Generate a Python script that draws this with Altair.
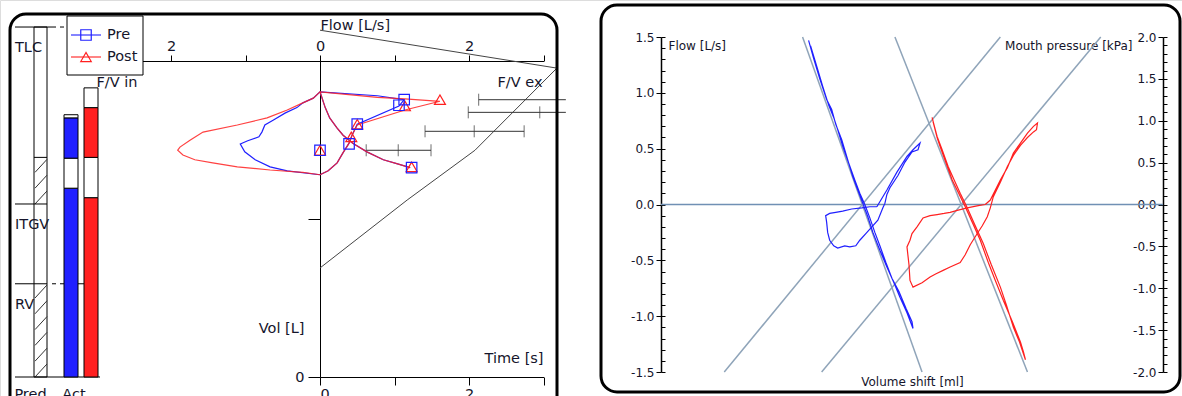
import altair as alt
import pandas as pd

FONT = "DejaVu Sans"
INK = "#15152b"
BLUE = "#2020ff"
RED = "#ff2020"
GUIDE = "#8fa4b9"
ZERO = "#7090b4"
SERIES = ["Pre", "Post"]
SERIES_COLORS = [BLUE, RED]

# ================= Right panel: flow [L/s] vs volume shift [ml] =================
pre_a_vs = [-51.5, -49, -46, -42.5, -40, -38, -35, -32, -29.5, -27, -24.5, -22, -19.5, -16, -12.5, -9, -6, -2.5, 0.5,
            0, -3, -6.5, -10, -13, -16, -18.5, -21, -23.5, -26, -28.5, -31.5, -34.5, -37, -39, -41.5, -44.5, -47.5, -50.5]
pre_a_flow = [1.47, 1.31, 1.13, 0.94, 0.85, 0.72, 0.58, 0.40, 0.25, 0.13, 0.01, -0.11, -0.25, -0.41, -0.56, -0.70, -0.83, -0.97, -1.11,
              -1.05, -0.93, -0.78, -0.66, -0.52, -0.37, -0.25, -0.12, 0.00, 0.10, 0.22, 0.37, 0.52, 0.67, 0.78, 0.89, 1.06, 1.24, 1.42]
pre_b_vs = [-17.5, -12.5, -7.5, -2.5, 0.5, 4, 3, 0, -3.5, -7, -11, -12.5, -13.5, -14.5, -17, -20, -23, -26, -28, -31,
            -33.5, -37, -39, -41, -42, -42.5, -43, -41, -38, -34.5, -30, -25, -21, -17.5]
pre_b_flow = [-0.02, 0.13, 0.29, 0.43, 0.49, 0.55, 0.49, 0.47, 0.38, 0.26, 0.15, 0.09, 0.01, -0.03, -0.14, -0.20, -0.26, -0.32, -0.37, -0.38,
              -0.37, -0.39, -0.37, -0.32, -0.25, -0.16, -0.10, -0.08, -0.07, -0.06, -0.04, -0.03, -0.02, -0.02]
post_a_vs = [10, 11, 12.5, 15, 18, 21, 24, 26.5, 28, 31.5, 35.5, 39.5, 44, 47, 50.5, 53.5, 56.5,
             55.5, 54, 50, 45.5, 41.5, 38, 34, 30.5, 26.5, 23, 20, 17, 14, 12.5, 11.5, 10.5]
post_a_flow = [0.78, 0.71, 0.61, 0.49, 0.34, 0.22, 0.10, 0.01, -0.05, -0.19, -0.35, -0.54, -0.74, -0.90, -1.10, -1.23, -1.39,
               -1.32, -1.23, -1.05, -0.86, -0.68, -0.52, -0.32, -0.18, -0.02, 0.11, 0.22, 0.37, 0.52, 0.60, 0.67, 0.74]
post_b_vs = [36.5, 39, 41.5, 44, 47.5, 50.5, 54, 57.5, 60.5, 62.5, 62, 60.5, 57.5, 54, 50.5, 47.5, 44, 40.5, 39, 37.5,
             35, 32.5, 29, 26.5, 24, 19, 15.5, 12, 9, 5, 0.5, -1, -1.5, -2.5, -1, 0, 2.5, 5.5, 9, 12.5, 16, 19, 23, 27.5, 33, 36.5]
post_b_flow = [0.00, 0.04, 0.13, 0.22, 0.33, 0.46, 0.55, 0.64, 0.70, 0.73, 0.67, 0.65, 0.60, 0.53, 0.44, 0.34, 0.20, 0.07, -0.03, -0.11,
               -0.19, -0.26, -0.36, -0.45, -0.52, -0.56, -0.59, -0.62, -0.65, -0.70, -0.74, -0.68, -0.54, -0.38, -0.32, -0.26, -0.20,
               -0.12, -0.10, -0.09, -0.08, -0.07, -0.05, -0.03, -0.01, 0.00]
# straight reference lines: volume shift where each line meets flow +1.5 and -1.5
ref_vs_at_top = [-54.5, -8.5, 44, 94]
ref_vs_at_bottom = [5, 57.5, -93.5, -45]
ref_flow_ends = [1.5, -1.5]

# ================= Left panel: flow-volume loops =================
pre_fv_flow = [0, -0.44, -0.67, -0.87, -1.01, -1.07, -0.97, -0.82, -0.78, -0.74, -0.63, -0.47, -0.31, -0.23, -0.09, 0,
               0.77, 1.13, 1.06, 0.50, 0.43, 0.39, 0.31, 0.23, 0.11, 0]
pre_fv_vol = [2.56, 2.61, 2.66, 2.75, 2.85, 2.95, 2.99, 3.04, 3.10, 3.19, 3.25, 3.34, 3.41, 3.47, 3.53, 3.61,
              3.56, 3.51, 3.43, 3.20, 3.06, 2.96, 2.84, 2.71, 2.61, 2.56]
post_fv_flow = [0, -0.23, -0.67, -1.11, -1.44, -1.68, -1.84, -1.91, -1.88, -1.74, -1.57, -1.11, -0.71, -0.44, -0.23, -0.09, 0,
                0.77, 1.14, 1.61, 1.14, 0.50, 0.43, 0.39, 0.31, 0.23, 0.11, 0]
post_fv_vol = [2.56, 2.59, 2.62, 2.66, 2.71, 2.75, 2.81, 2.87, 2.91, 3.00, 3.10, 3.19, 3.28, 3.38, 3.47, 3.53, 3.61,
               3.54, 3.52, 3.49, 3.38, 3.19, 3.06, 2.96, 2.84, 2.71, 2.61, 2.56]
curve_flow = [0, 0.07, 0.13, 0.23, 0.31, 0.44, 0.63, 0.85, 1.03, 1.21]
curve_vol = [3.61, 3.41, 3.28, 3.15, 3.06, 2.96, 2.85, 2.75, 2.70, 2.65]
pre_mark_flow = [1.13, 1.06, 0.50, 0.39, 0, 1.23]
pre_mark_vol = [3.51, 3.44, 3.20, 2.95, 2.87, 2.65]
post_mark_flow = [1.61, 1.14, 0.50, 0.42, 0, 1.23]
post_mark_vol = [3.51, 3.43, 3.20, 3.04, 2.87, 2.66]
# predicted expiratory flow ranges (F/V ex)
pred_vol = [3.51, 3.35, 3.11, 2.87]
pred_lo = [2.13, 1.99, 1.41, 0.62]
pred_hi = [3.3, 3.3, 2.74, 1.49]
pred_tick_flow = [2.13, 1.99, 2.95, 1.41, 2.07, 2.74, 0.62, 1.05, 1.49]
pred_tick_vol = [3.51, 3.35, 3.35, 3.11, 3.11, 3.11, 2.87, 2.87, 2.87]
# volume-time lines
spiro_a_time = [0, 3.18]
spiro_a_vol = [4.39, 3.91]
spiro_b_time = [0, 1.17, 2.08, 3.18]
spiro_b_vol = [1.38, 2.24, 2.87, 3.91]

# lung volume bars [L]
pred_top = 4.43
hatch_ranges = [(2.19, 2.78), (0.0, 1.18)]
hatch_starts = [2.19, 2.39, 2.59, 0.0, 0.2, 0.4, 0.6, 0.8, 1.0]
vol_labels = ["TLC", "ITGV", "RV"]
vol_label_y = [4.43, 2.19, 1.18]
act_col = ["Pre", "Pre", "Pre", "Pre", "Post", "Post", "Post", "Post"]
act_lo = [0, 2.39, 2.77, 3.28, 0, 2.27, 2.78, 3.41]
act_hi = [2.39, 2.77, 3.28, 3.32, 2.27, 2.78, 3.41, 3.66]
act_fill = [BLUE, "white", BLUE, "white", RED, "white", RED, "white"]

one = pd.DataFrame({"k": [0]})


def path_df(segments):
    rows = []
    for s, (xs, ys) in enumerate(segments):
        for i, (a, b) in enumerate(zip(xs, ys)):
            rows.append({"seg": s, "i": i, "x": a, "y": b})
    return pd.DataFrame(rows)


AX = dict(labelFont=FONT, titleFont=FONT, labelColor=INK, titleColor=INK, titleFontWeight="normal",
          domainColor="black", tickColor="black", grid=False, labelOverlap=False)
MINUS = "(datum.value < 0 ? '-' : '') + format(abs(datum.value), '.1f')"

# ---------- right panel scales / axes ----------
R_X = alt.Scale(domain=[-125, 125], range=[661, 1163], nice=False, zero=False)
R_F = alt.Scale(domain=[-1.5, 1.5], range=[372, 37], nice=False, zero=False)
R_P = alt.Scale(domain=[-2, 2], range=[372, 37], nice=False, zero=False)
r_x_axis = alt.Axis(orient="bottom", offset=-24, domain=False, ticks=False, labels=False,
                    title="Volume shift [ml]", titleX=912, titleY=9, titleBaseline="middle",
                    titleAlign="center", titleFontSize=12, **AX)
r_f_axis = alt.Axis(orient="left", offset=-661, values=[-1.5, -1, -0.5, 0, 0.5, 1, 1.5], labelExpr=MINUS,
                    tickSize=5, labelPadding=2, labelFontSize=12, domainWidth=1.5,
                    title="Flow [L/s]", titleAngle=0, titleAlign="left", titleBaseline="middle",
                    titleX=7, titleY=45, titleFontSize=12, **AX)
r_p_axis = alt.Axis(orient="left", offset=-1163, values=[-2, -1.5, -1, -0.5, 0, 0.5, 1, 1.5, 2], labelExpr=MINUS,
                    tickSize=5, labelPadding=2, labelFontSize=12, domainWidth=1.5,
                    title="Mouth pressure [kPa]", titleAngle=0, titleAlign="right", titleBaseline="middle",
                    titleX=-31, titleY=45, titleFontSize=12, **AX)

rx = alt.X("x:Q", scale=R_X, axis=r_x_axis)
ry = alt.Y("y:Q", scale=R_F, axis=r_f_axis)

ref_df = path_df([([t, b], ref_flow_ends) for t, b in zip(ref_vs_at_top, ref_vs_at_bottom)])
right_lines = alt.layer(
    alt.Chart(ref_df).mark_line(color=GUIDE, strokeWidth=1.5).encode(x=rx, y=ry, detail="seg:N", order="i:Q"),
    alt.Chart(path_df([(pre_a_vs, pre_a_flow), (pre_b_vs, pre_b_flow)])).mark_line(color=BLUE, strokeWidth=1.2)
    .encode(x=rx, y=ry, detail="seg:N", order="i:Q"),
    alt.Chart(path_df([(post_a_vs, post_a_flow), (post_b_vs, post_b_flow)])).mark_line(color=RED, strokeWidth=1.2)
    .encode(x=rx, y=ry, detail="seg:N", order="i:Q"),
)

zero_rule = alt.Chart(pd.DataFrame({"p": [0]})).mark_rule(color=ZERO, strokeWidth=1.5).encode(
    y=alt.Y("p:Q", scale=R_P, axis=r_p_axis), x=alt.value(661), x2=alt.value(1163))

minor_f = alt.Chart(one).mark_point(opacity=0).encode(y=alt.Y("k:Q", scale=R_F, axis=alt.Axis(
    orient="left", offset=-665, values=[round(-1.5 + 0.1 * k, 1) for k in range(31)], tickSize=4,
    labels=False, domain=False, title=None, tickColor="black", grid=False)))
minor_p = alt.Chart(one).mark_point(opacity=0).encode(y=alt.Y("k:Q", scale=R_P, axis=alt.Axis(
    orient="left", offset=-1167, values=[round(-2 + 0.1 * k, 1) for k in range(41)], tickSize=4,
    labels=False, domain=False, title=None, tickColor="black", grid=False)))

# ---------- left panel: flow-volume ----------
L_F = alt.Scale(domain=[-3, 3], range=[96.5, 543.5], nice=False, zero=False)
L_V = alt.Scale(domain=[0, 4], range=[377, 61], nice=False, zero=False)
L_T = alt.Scale(domain=[0, 3], range=[320, 543.5], nice=False, zero=False)
fv_x_axis = alt.Axis(orient="top", offset=-61, values=[-3, -2, -1, 0, 1, 2, 3],
                     labelExpr="datum.value % 2 == 0 ? format(abs(datum.value), 'd') : ''",
                     tickSize=6, labelPadding=2, labelFontSize=14.5, title="Flow [L/s]", titleX=320, titleY=-36,
                     titleAlign="left", titleBaseline="middle", titleAngle=0, titleFontSize=14.5, **AX)
fv_y_axis = alt.Axis(orient="left", offset=-320, values=[0, 2], labelExpr="datum.value == 0 ? '0' : ''",
                     tickSize=12, labelPadding=4, labelFontSize=14.5, title="Vol [L]", titleAngle=0,
                     titleAlign="right", titleBaseline="middle", titleX=-16, titleY=328, titleFontSize=14.5, **AX)
t_axis = alt.Axis(orient="bottom", offset=-19, values=[0, 1, 2, 3],
                  labelExpr="datum.value % 2 == 0 ? format(datum.value, 'd') : ''", tickSize=8, labelPadding=2,
                  labelFontSize=14.5, title="Time [s]", titleX=543, titleY=-19, titleAlign="right",
                  titleBaseline="middle", titleFontSize=14.5, **AX)

fx = alt.X("x:Q", scale=L_F, axis=fv_x_axis)
fy = alt.Y("y:Q", scale=L_V, axis=fv_y_axis)

pred_df = pd.DataFrame({"y": pred_vol, "x": pred_lo, "x2": pred_hi})
tick_df = pd.DataFrame({"x": pred_tick_flow, "y": pred_tick_vol})
fv = alt.layer(
    alt.Chart(pred_df).mark_rule(color="#333333", strokeWidth=1).encode(x=fx, x2="x2:Q", y=fy),
    alt.Chart(tick_df).mark_point(shape="M0,-1V1", size=144, color="#333333", strokeWidth=1).encode(x=fx, y=fy),
    alt.Chart(path_df([(pre_fv_flow, pre_fv_vol), (curve_flow, curve_vol)])).mark_line(color=BLUE, strokeWidth=1.2)
    .encode(x=fx, y=fy, detail="seg:N", order="i:Q"),
    alt.Chart(path_df([(post_fv_flow, post_fv_vol), (curve_flow, curve_vol)])).mark_line(color=RED, strokeWidth=1.2, opacity=0.85)
    .encode(x=fx, y=fy, detail="seg:N", order="i:Q"),
    alt.Chart(pd.DataFrame({"x": post_mark_flow, "y": post_mark_vol})).mark_point(
        shape="triangle-up", size=120, color=RED, filled=False, strokeWidth=1.2, opacity=1).encode(x=fx, y=fy),
    alt.Chart(pd.DataFrame({"x": pre_mark_flow, "y": pre_mark_vol})).mark_point(
        shape="square", size=110, color=BLUE, filled=False, strokeWidth=1.2, opacity=1).encode(x=fx, y=fy),
)

spiro = alt.Chart(path_df([(spiro_a_time, spiro_a_vol), (spiro_b_time, spiro_b_vol)])).mark_line(
    color="#444444", strokeWidth=1).encode(
    x=alt.X("x:Q", scale=L_T, axis=t_axis), y=alt.Y("y:Q", scale=L_V, axis=None), detail="seg:N", order="i:Q")

# ---------- left panel: volume bars ----------
B_V = alt.Scale(domain=[0, 4], range=[377, 61], nice=False, zero=False)
pred_axis = alt.Axis(orient="bottom", offset=-19, domain=False, ticks=False, labelPadding=10, labelFontSize=14.5,
                     labelAngle=0, labelAlign="center", labelBaseline="top", labelOffset=-10, title=None, **AX)
pcol = alt.X("col:N", scale=alt.Scale(domain=["Pred"], range=[34, 47], paddingInner=0, paddingOuter=0), axis=pred_axis)
by = alt.Y("lo:Q", scale=B_V, axis=None)
hatch_df = pd.DataFrame({"lo": hatch_starts, "hi": [h + 0.165 for h in hatch_starts]})


def hrule(v, x0, x1, dash=False):
    kw = dict(color="black", strokeWidth=1)
    if dash:
        kw["strokeDash"] = [4, 4]
    return alt.Chart(pd.DataFrame({"lo": [v]})).mark_rule(**kw).encode(y=by, x=alt.value(x0), x2=alt.value(x1))


pred_layer = alt.layer(
    alt.Chart(pd.DataFrame({"col": ["Pred"], "lo": [0], "hi": [pred_top]})).mark_bar(
        fill="white", stroke="black", strokeWidth=1).encode(x=pcol, y=by, y2="hi:Q"),
    alt.Chart(hatch_df).mark_rule(color="#333333", strokeWidth=1).encode(
        x=alt.value(35), x2=alt.value(47), y=by, y2="hi:Q"),
    hrule(pred_top, 15, 52), hrule(pred_top, 52, 67, True),
    hrule(hatch_ranges[0][1], 34, 47),
    hrule(hatch_ranges[0][0], 15, 47),
    hrule(hatch_ranges[1][1], 15, 47), hrule(hatch_ranges[1][1], 52, 67, True), hrule(hatch_ranges[1][1], 67, 84),
    hrule(0, 15, 100),
    alt.Chart(pd.DataFrame({"lo": vol_label_y, "t": vol_labels})).mark_text(
        align="left", baseline="middle", dy=21, font=FONT, fontSize=14.5, color=INK).encode(
        y=by, x=alt.value(15), text="t:N"),
)

act_axis = alt.Axis(orient="bottom", offset=-19, domain=False, ticks=False, labelPadding=10, labelFontSize=14.5,
                    labelAngle=0, labelAlign="center", labelBaseline="top",
                    labelExpr="datum.value == 'Pre' ? 'Act' : ''", labelOffset=3, title=None, **AX)
act_layer = alt.Chart(pd.DataFrame({"col": act_col, "lo": act_lo, "hi": act_hi, "f": act_fill})).mark_bar(
    stroke="black", strokeWidth=1).encode(
    x=alt.X("col:N", scale=alt.Scale(domain=["Pre", "Post"], range=[64, 98], paddingInner=0.3, paddingOuter=0),
            axis=act_axis),
    y=by, y2="hi:Q", fill=alt.Fill("f:N", scale=None))

# ---------- legend ----------
ly = alt.Y("s:N", scale=alt.Scale(type="point", domain=SERIES, range=[35, 57], padding=0), axis=None)
lcolor = alt.Color("s:N", scale=alt.Scale(domain=SERIES, range=SERIES_COLORS), legend=None)
leg_df = pd.DataFrame({"s": SERIES})
legend = alt.layer(
    alt.Chart(one).mark_rect(fill="white", stroke="black", strokeWidth=1).encode(
        x=alt.value(67), x2=alt.value(143), y=alt.value(16), y2=alt.value(75)),
    alt.Chart(leg_df).mark_rule(strokeWidth=1.1).encode(y=ly, x=alt.value(71), x2=alt.value(101), color=lcolor),
    alt.Chart(leg_df).mark_point(filled=False, size=110, strokeWidth=1.2, opacity=1).encode(
        y=ly, x=alt.value(86), color=lcolor,
        shape=alt.Shape("s:N", scale=alt.Scale(domain=SERIES, range=["square", "triangle-up"]), legend=None)),
    alt.Chart(leg_df).mark_text(align="left", baseline="middle", font=FONT, fontSize=14.5, color=INK).encode(
        y=ly, x=alt.value(107), text="s:N"),
)

labels = alt.layer(
    alt.Chart(pd.DataFrame({"t": ["F/V in"]})).mark_text(font=FONT, fontSize=14.5, color=INK).encode(
        x=alt.value(117), y=alt.value(83), text="t:N"),
    alt.Chart(pd.DataFrame({"t": ["F/V ex"]})).mark_text(font=FONT, fontSize=14.5, color=INK).encode(
        x=alt.value(520), y=alt.value(83), text="t:N"),
)

frames = alt.layer(
    alt.Chart(one).mark_rect(fill="transparent", stroke="black", strokeWidth=3, cornerRadius=16).encode(
        x=alt.value(10), x2=alt.value(557), y=alt.value(14), y2=alt.value(425)),
    alt.Chart(one).mark_rect(fill="transparent", stroke="black", strokeWidth=3, cornerRadius=16).encode(
        x=alt.value(601), x2=alt.value(1180), y=alt.value(5), y2=alt.value(392)),
)

chart = alt.layer(
    zero_rule, minor_f, minor_p, right_lines,
    spiro, fv, pred_layer, act_layer, legend, labels, frames,
).resolve_scale(x="independent", y="independent").properties(
    width=1182, height=396, padding=0, autosize="none"
).configure_view(stroke=None).configure(font=FONT)

chart.save("out.html", embed_options={"renderer": "svg", "actions": False})
